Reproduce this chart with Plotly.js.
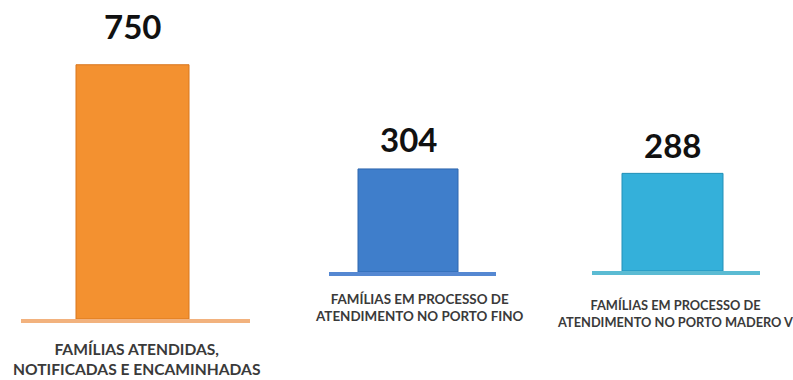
<!DOCTYPE html>
<html>
<head>
<meta charset="utf-8">
<script src="https://cdn.plot.ly/plotly-3.0.1.min.js"></script>
<style>html,body{margin:0;padding:0;background:#fff;}#chart{width:793px;height:380px;}</style>
</head>
<body>
<div id="chart"></div>
<script>
// ---- data ----
const categories = [
  "FAMÍLIAS ATENDIDAS,<br>NOTIFICADAS E ENCAMINHADAS",
  "FAMÍLIAS EM PROCESSO DE<br>ATENDIMENTO NO PORTO FINO",
  "FAMÍLIAS EM PROCESSO DE<br>ATENDIMENTO NO PORTO MADERO V"
];
const values = [750, 304, 288];
const valueLabels = ["750", "304", "288"];

// ---- styles / layout ----
const barColors = ["#F39130", "#3F7ECB", "#34B0DA"];
const edgeColors = ["#D9761C", "#2F66AE", "#2290B8"];
const lineColors = ["#F2B27E", "#5588D2", "#5BBBD3"];
const xDomainsPx = [[21, 250], [329, 496], [592, 760]];
const barCenterPx = [132.5, 408, 672.5];
const barWidthPx = [113, 100, 101];
const bottomPx = [319, 272, 271];
const yRanges = [900, 600, 600];
const labelShift = [17, 8, 6];
const catShiftY = [-18.5, -17, -24];
const catShiftX = [3.5, 11, 2.5];
const catSize = [15.6, 13.4, 12.8];
const W = 793, H = 380, pxPerUnit = 0.339;

const traces = [];
const layout = {
  width: W, height: H,
  margin: {l: 0, r: 0, t: 0, b: 0},
  paper_bgcolor: "#ffffff", plot_bgcolor: "#ffffff",
  showlegend: false,
  annotations: []
};

for (let i = 0; i < values.length; i++) {
  const sfx = i === 0 ? "" : String(i + 1);
  const xa = "x" + sfx, ya = "y" + sfx;
  const dx0 = xDomainsPx[i][0], dx1 = xDomainsPx[i][1];
  const unitsPerPx = 2 / (dx1 - dx0);
  const r0 = -(barCenterPx[i] - dx0) * unitsPerPx;
  const r1 = r0 + 2;
  traces.push({
    type: "bar",
    x: [0], y: [values[i]],
    xaxis: xa, yaxis: ya,
    width: barWidthPx[i] * unitsPerPx,
    marker: {color: barColors[i], line: {color: edgeColors[i], width: 1}},
    hoverinfo: "skip"
  });
  const y0 = (H - bottomPx[i]) / H;
  const y1 = y0 + yRanges[i] * pxPerUnit / H;
  layout["xaxis" + sfx] = {
    domain: [dx0 / W, dx1 / W], range: [r0, r1], anchor: ya,
    showgrid: false, zeroline: false, showticklabels: false, ticks: "",
    showline: true, linecolor: lineColors[i], linewidth: 4, fixedrange: true
  };
  layout["yaxis" + sfx] = {
    domain: [y0, Math.min(y1, 1)], range: [0, yRanges[i]], anchor: xa,
    visible: false, showgrid: false, zeroline: false, fixedrange: true
  };
  layout.annotations.push({
    xref: xa, yref: ya, x: 0, y: values[i],
    text: "<b>" + valueLabels[i] + "</b>", showarrow: false,
    yanchor: "bottom", yshift: labelShift[i],
    font: {family: "Lato, 'Open Sans', sans-serif", size: 33, color: "#111111"}
  });
  layout.annotations.push({
    xref: xa, yref: ya, x: 0, y: 0,
    text: "<b>" + categories[i] + "</b>", showarrow: false,
    yanchor: "top", yshift: catShiftY[i], xshift: catShiftX[i], align: "center",
    font: {family: "Lato, 'Open Sans', sans-serif", size: catSize[i], color: "#3a3a3a"}
  });
}

Plotly.newPlot("chart", traces, layout, {displayModeBar: false, staticPlot: true});
</script>
</body>
</html>
